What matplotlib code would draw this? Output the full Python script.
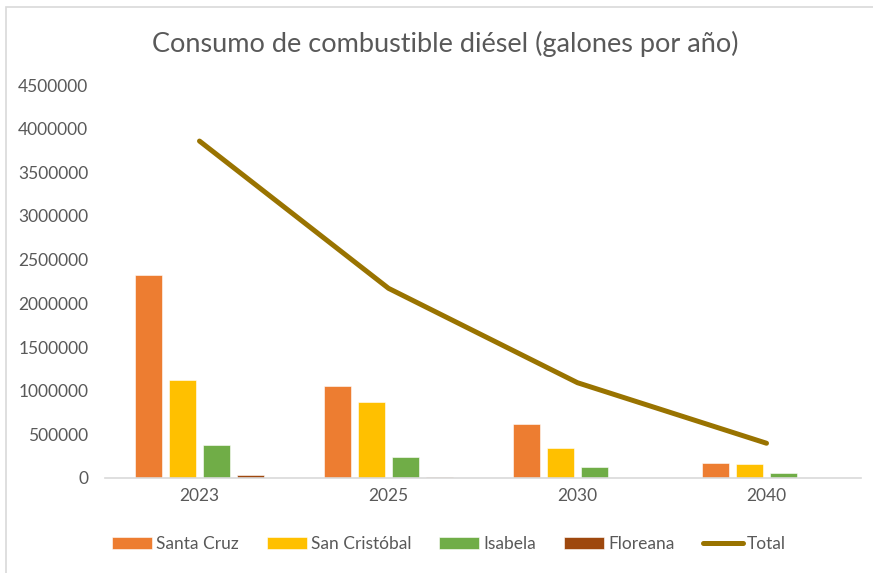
import matplotlib.pyplot as plt
import numpy as np
from matplotlib.patches import Rectangle

years = ["2023", "2025", "2030", "2040"]
santa_cruz = [2324000, 1053000, 618000, 168000]
san_cristobal = [1122000, 870000, 340000, 165000]
isabela = [378000, 237000, 130000, 61000]
floreana = [34000, 12000, 3000, 4000]
total = [3858000, 2172000, 1091000, 398000]

series = [
    ("Santa Cruz", santa_cruz, "#ED7D31"),
    ("San Cristóbal", san_cristobal, "#FFC000"),
    ("Isabela", isabela, "#70AD47"),
    ("Floreana", floreana, "#9E480E"),
]

plt.rcParams['font.family'] = ['Lato', 'DejaVu Sans']
grey = "#595959"

fig = plt.figure(figsize=(8.73, 5.73), dpi=100)
ax = fig.add_axes([105 / 873, 1 - 478 / 573, 756 / 873, (478 - 85) / 573])

x = np.arange(len(years))
slot = 0.18
width = 0.143
handles = []
for i, (name, vals, col) in enumerate(series):
    b = ax.bar(x + (i - 1.5) * slot, vals, width, color=col, label=name,
               edgecolor="white", linewidth=0.4, zorder=2)
    handles.append(b)

ln, = ax.plot(x, total, color="#997300", linewidth=3.6, solid_capstyle="round",
              solid_joinstyle="round", label="Total", zorder=3)
handles.append(ln)

ax.set_xlim(-0.5, len(years) - 0.5)
ax.set_ylim(0, 4500000)
ax.set_yticks(np.arange(0, 4500001, 500000))
ax.set_yticklabels([str(v) for v in range(0, 4500001, 500000)])
ax.set_xticks(x)
ax.set_xticklabels(years)
ax.tick_params(axis="both", length=0, colors=grey, labelsize=12.5)
ax.tick_params(axis="x", pad=7)
ax.tick_params(axis="y", pad=12)

for s in ["top", "right", "left"]:
    ax.spines[s].set_visible(False)
ax.spines["bottom"].set_color("#D9D9D9")
ax.spines["bottom"].set_linewidth(1.2)

fig.text(445 / 873, 1 - 44 / 573, "Consumo de combustible diésel (galones por año)",
         ha="center", va="center", fontsize=19.5, color=grey)

fig.legend(handles=handles, labels=[h.get_label() for h in handles],
           loc="center", bbox_to_anchor=(449 / 873, 1 - 544 / 573), ncol=5,
           frameon=False, fontsize=12.5, labelcolor=grey, handlelength=2.3,
           handleheight=0.7, handletextpad=0.25, columnspacing=1.6)

# outer chart border
fig.patches.append(Rectangle((6 / 873, -0.1), 2, 1 - 7 / 573 + 0.1,
                             transform=fig.transFigure, fill=False,
                             edgecolor="#D9D9D9", linewidth=1.2))

fig.savefig("out.png", dpi=100)
